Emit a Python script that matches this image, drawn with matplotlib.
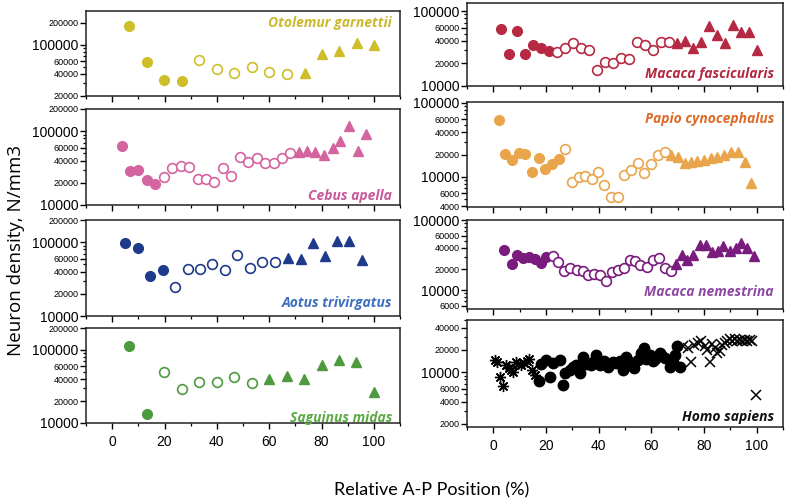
import matplotlib
matplotlib.use('Agg')
import matplotlib.pyplot as plt
import numpy as np

# ---------------- data ----------------
# Otolemur garnettii
oto_fx = [6.6, 13.2, 19.9, 26.5]
oto_fy = [179000, 57700, 33300, 31800]
oto_ox = [33.3, 40.0, 46.7, 53.4, 60.1, 66.7]
oto_oy = [61500, 46200, 41000, 49400, 41900, 40100]
oto_tx = [73.7, 80.3, 86.6, 93.4, 100.1]
oto_ty = [41500, 75900, 82900, 105600, 101000]

# Cebus apella
ceb_fx = [3.7, 6.7, 10.0, 13.3, 16.4]
ceb_fy = [63500, 28600, 30200, 21700, 19200]
ceb_ox = [19.7, 23.0, 26.3, 29.5, 32.8, 36.0, 39.1, 42.4, 45.5, 48.8, 52.0, 55.2, 58.4, 61.7, 64.9, 68.0]
ceb_oy = [23800, 31800, 34200, 32800, 22400, 22600, 20600, 32100, 24800, 44700, 37800, 42800, 37500, 36700, 42800, 50600]
ceb_tx = [71.3, 74.5, 77.6, 81.0, 84.3, 87.2, 90.5, 93.9, 97.0]
ceb_ty = [53000, 54000, 51500, 48000, 58500, 74000, 117000, 54500, 93000]

# Aotus trivirgatus
aot_fx = [5.0, 9.8, 14.6, 19.3]
aot_fy = [99000, 84600, 35100, 41500]
aot_ox = [24.1, 28.8, 33.6, 38.3, 43.1, 47.8, 52.6, 57.3, 62.1]
aot_oy = [24900, 43300, 43300, 50700, 42000, 67100, 44200, 54500, 53400]
aot_tx = [67.3, 72.0, 76.7, 81.3, 86.0, 90.7, 95.5]
aot_ty = [60500, 58500, 97000, 65500, 103000, 103000, 58000]

# Saguinus midas
sag_fx = [6.6, 13.2]
sag_fy = [113000, 13400]
sag_ox = [19.9, 26.6, 33.3, 40.0, 46.7, 53.4]
sag_oy = [49900, 29400, 36600, 36600, 42300, 35800]
sag_tx = [60.1, 66.7, 73.4, 80.1, 86.5, 93.2, 100.1]
sag_ty = [40500, 44000, 39500, 63000, 74000, 69000, 26500]

# Macaca fascicularis
fas_fx = [3.1, 6.0, 9.0, 12.1, 15.1, 18.2, 21.2]
fas_fy = [57500, 26700, 54100, 26500, 35600, 31800, 29600]
fas_ox = [24.3, 27.4, 30.3, 33.3, 36.3, 39.4, 42.5, 45.5, 48.4, 51.5, 54.5, 57.6, 60.6, 63.7, 66.7]
fas_oy = [28100, 32500, 37400, 32500, 30200, 16500, 21100, 20500, 23900, 22700, 38200, 35600, 29900, 38600, 38600]
fas_tx = [69.8, 72.6, 76.0, 79.0, 82.0, 85.0, 88.1, 90.9, 94.1, 97.1, 100.2]
fas_ty = [37000, 39500, 32500, 38500, 62500, 48500, 37500, 66000, 53000, 53000, 30000]

# Papio cynocephalus
pap_fx = [2.0, 4.6, 7.1, 9.6, 12.2, 14.8, 17.3, 19.7, 22.3, 24.8]
pap_fy = [58800, 20400, 16900, 21300, 20600, 11600, 18100, 12700, 15000, 17400]
pap_ox = [27.4, 29.9, 32.4, 34.9, 37.4, 39.8, 42.2, 44.7, 47.2, 49.8, 52.2, 54.9, 57.4, 59.9, 62.4, 65.0]
pap_oy = [23500, 8600, 9800, 10100, 9300, 11600, 7800, 5300, 5300, 10700, 12200, 15400, 11200, 15000, 20000, 21900]
pap_tx = [67.4, 70.0, 72.6, 75.1, 77.5, 80.1, 82.6, 85.0, 87.6, 90.1, 92.9, 95.4, 97.7]
pap_ty = [20000, 18800, 15300, 15800, 16300, 17000, 17900, 18800, 19600, 21400, 21400, 15800, 8200]

# Macaca nemestrina
nem_fx = [4.1, 6.9, 9.0, 11.2, 13.6, 15.8, 18.1, 20.1]
nem_fy = [37400, 23800, 31800, 28500, 29500, 27900, 24300, 29500]
nem_ox = [22.5, 24.7, 26.9, 29.3, 31.6, 33.9, 36.0, 38.3, 40.5, 42.8, 45.1, 47.3, 49.6, 51.9, 53.9, 55.8, 58.5, 60.7, 62.9, 65.2, 67.4]
nem_oy = [31100, 25100, 18500, 20600, 19600, 18700, 16300, 17000, 16600, 13400, 18100, 19600, 20400, 27100, 26200, 22500, 21300, 26500, 28500, 20800, 18500]
nem_tx = [69.3, 71.6, 73.7, 76.0, 78.6, 80.7, 82.9, 85.3, 87.2, 89.9, 92.0, 93.9, 96.2, 98.8]
nem_ty = [23500, 32000, 27300, 31400, 43500, 43500, 35500, 36000, 42000, 36500, 40000, 47000, 40500, 31000]

# Homo sapiens
hom_ax = [0.5, 1.5, 2.7, 3.8, 4.8, 5.8, 6.6, 7.4, 8.5, 9.5, 10.4, 11.8, 12.8, 13.6, 14.5, 15.8]
hom_ay = [14500, 13500, 8700, 6600, 12600, 11500, 10700, 9900, 13800, 12800, 12600, 13200, 14000, 15000, 10700, 9200]
hom_cx = [17.5, 18.2, 20.1, 21.6, 22.6, 25.2, 26.4, 27.4, 29.0, 30.2, 31.5, 32.8, 34.0, 35.3, 37.2,
          39.1, 40.4, 41.9, 43.5, 45.4, 46.7, 48.0, 49.2, 50.5, 52.0, 53.4, 54.9, 56.2, 57.2, 58.1,
          59.6, 61.3, 63.2, 65.1, 67.0, 68.3, 68.9, 69.6, 70.9, 38.0, 44.0, 51.0, 60.5, 64.0]
hom_cy = [7600, 13000, 14700, 8700, 13100, 14400, 6700, 9700, 10700, 11900, 12500, 9700, 15900, 13000, 12500,
          17200, 12500, 14200, 11900, 13900, 13200, 14200, 10700, 15900, 13900, 11300, 14700, 18100, 21100, 15100,
          17200, 14900, 18100, 15500, 11900, 13900, 17200, 22200, 11900, 13500, 12800, 12600, 14000, 16500]
hom_xx = [72.2, 73.8, 75.2, 76.1, 77.8, 78.9, 80.2, 81.2, 82.2, 83.1, 84.1, 85.0, 86.1, 87.0, 87.9,
          88.9, 89.9, 90.8, 91.8, 92.7, 93.7, 94.6, 95.6, 96.5, 97.5, 98.4, 99.7]
hom_xy = [22200, 21100, 13900, 23400, 24600, 26700, 22200, 20000, 13900, 24000, 21100, 18100, 19400, 23000, 24600,
          26000, 28200, 26500, 28200, 26500, 27300, 26000, 27300, 26000, 27300, 26500, 4950]

x_major = [0, 20, 40, 60, 80, 100]
x_minor = [-10, 10, 30, 50, 70, 90, 110]

# ---------------- figure ----------------
W, H = 796, 500
fig = plt.figure(figsize=(W / 100, H / 100), dpi=100)
TICKFONT = 'Liberation Sans'
LABFONT = 'Open Sans'


def make_ax(l, t, r, b):
    return fig.add_axes([l / W, 1 - b / H, (r - l) / W, (b - t) / H])


def fmt_ax(ax, ylim, yt, show_xlabels):
    ax.set_yscale('log')
    ax.set_xlim(-10, 110)
    ax.set_ylim(*ylim)
    ax.set_yticks(yt)
    ax.set_yticklabels([str(v) for v in yt], family=TICKFONT)
    for lab, v in zip(ax.get_yticklabels(), yt):
        if abs(np.log10(v) - round(np.log10(v))) < 1e-9:
            lab.set_fontsize(10)
        else:
            lab.set_fontsize(6.5)
    mins = []
    for k in range(2, 7):
        for s in [3, 5, 7, 8, 9]:
            v = s * 10 ** k
            if ylim[0] <= v <= ylim[1] and v not in yt:
                mins.append(v)
    ax.set_yticks(mins, minor=True)
    ax.yaxis.set_minor_formatter(matplotlib.ticker.NullFormatter())
    ax.set_xticks(x_major)
    ax.set_xticks(x_minor, minor=True)
    if show_xlabels:
        ax.set_xticklabels([str(v) for v in x_major], family=TICKFONT, fontsize=10)
    else:
        ax.set_xticklabels([])
    ax.tick_params(axis='both', which='major', direction='out', length=4, width=1.0, pad=1.5)
    ax.tick_params(axis='both', which='minor', direction='out', length=2.5, width=0.9)
    ax.tick_params(axis='x', which='major', length=4.5, pad=4)
    for sp in ax.spines.values():
        sp.set_linewidth(1.1)
        sp.set_color('#222222')


def plot_species(ax, fx, fy, ox, oy, tx, ty, col, ms=7):
    ax.plot(fx, fy, 'o', color=col, ms=ms, mec=col, zorder=3)
    ax.plot(ox, oy, 'o', mfc='white', mec=col, mew=1.2, ms=ms, zorder=3)
    ax.plot(tx, ty, '^', color=col, ms=ms, mec=col, zorder=3)


def species_label(ax, text, col, px, py, box, ha='right'):
    l, t, r, b = box
    ax.text((px - l) / (r - l), 1 - (py - t) / (b - t), text, transform=ax.transAxes,
            ha=ha, va='center', color=col, fontsize=10, fontweight='bold',
            fontstyle='italic', family=LABFONT)


yt_l1 = [20000, 40000, 60000, 100000, 200000]
yt_l = [10000, 20000, 40000, 60000, 100000, 200000]

# Left column
b = (86, 11, 400, 96)
ax = make_ax(*b)
fmt_ax(ax, (20000, 290000), yt_l1, False)
plot_species(ax, oto_fx, oto_fy, oto_ox, oto_oy, oto_tx, oto_ty, '#CDBE2A')
species_label(ax, 'Otolemur garnettii', '#C9BA2C', 392, 23, b)

b = (86, 109, 400, 205)
ax = make_ax(*b)
fmt_ax(ax, (10000, 200000), yt_l, False)
plot_species(ax, ceb_fx, ceb_fy, ceb_ox, ceb_oy, ceb_tx, ceb_ty, '#D4649F')
species_label(ax, 'Cebus apella', '#C9589A', 392, 196, b)

b = (86, 220, 400, 316)
ax = make_ax(*b)
fmt_ax(ax, (10000, 200000), yt_l, False)
plot_species(ax, aot_fx, aot_fy, aot_ox, aot_oy, aot_tx, aot_ty, '#1F3A8A')
species_label(ax, 'Aotus trivirgatus', '#3D6FBE', 392, 303, b)

b = (86, 328, 400, 423)
ax = make_ax(*b)
fmt_ax(ax, (10000, 200000), yt_l, True)
plot_species(ax, sag_fx, sag_fy, sag_ox, sag_oy, sag_tx, sag_ty, '#4E9A3E')
species_label(ax, 'Saguinus midas', '#5BAA45', 392, 418, b)

# Right column
b = (467, 3, 783, 86)
ax = make_ax(*b)
fmt_ax(ax, (10000, 128000), [10000, 20000, 40000, 60000, 100000], False)
plot_species(ax, fas_fx, fas_fy, fas_ox, fas_oy, fas_tx, fas_ty, '#B52A42')
species_label(ax, 'Macaca fascicularis', '#B3283E', 774, 74, b)

b = (467, 102, 783, 207)
ax = make_ax(*b)
fmt_ax(ax, (3900, 103000), [4000, 6000, 10000, 20000, 40000, 60000, 100000], False)
plot_species(ax, pap_fx, pap_fy, pap_ox, pap_oy, pap_tx, pap_ty, '#E9A54B')
species_label(ax, 'Papio cynocephalus', '#DC6A28', 774, 119, b)

b = (467, 220, 783, 309)
ax = make_ax(*b)
fmt_ax(ax, (5400, 100000), [6000, 10000, 20000, 40000, 60000, 100000], False)
plot_species(ax, nem_fx, nem_fy, nem_ox, nem_oy, nem_tx, nem_ty, '#7A1C7E')
species_label(ax, 'Macaca nemestrina', '#8C48A2', 774, 292, b)

b = (467, 320, 783, 427)
ax = make_ax(*b)
fmt_ax(ax, (1820, 50500), [2000, 4000, 6000, 10000, 20000, 40000], True)
ax.plot(hom_ax, hom_ay, linestyle='none', marker=(8, 2, 0), ms=8, color='black', mew=1.0, zorder=3)
ax.plot(hom_cx, hom_cy, 'o', color='black', ms=7.5, zorder=3)
ax.plot(hom_xx, hom_xy, 'x', color='black', ms=6.5, mew=1.1, zorder=3)
species_label(ax, 'Homo sapiens', '#111111', 774, 417, b)

fig.text(16 / W, 0.5, 'Neuron density, N/mm3', rotation=90, ha='center', va='center',
         fontsize=13.5, family=LABFONT)
fig.text(432 / W, 1 - 490 / H, 'Relative A-P Position (%)', ha='center', va='center',
         fontsize=13, family='Lato')

fig.savefig('out.png', dpi=100)
